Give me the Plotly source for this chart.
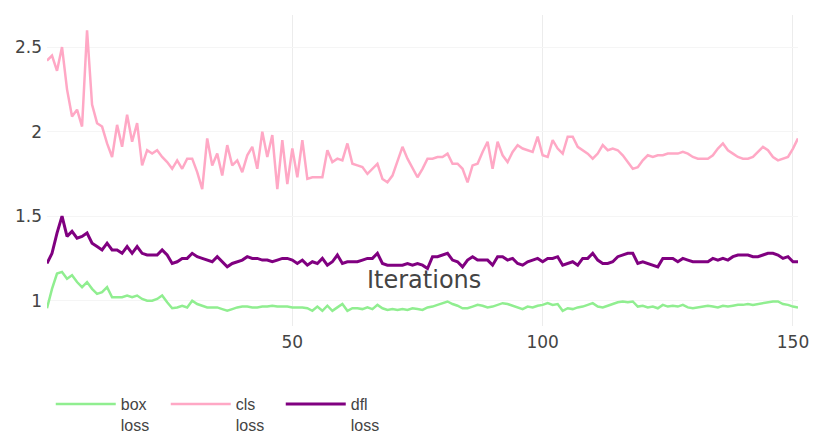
import plotly.graph_objects as go

# Training losses per iteration
iterations = list(range(1, 152))

box_loss = [
    0.955, 1.07, 1.16, 1.17, 1.13, 1.15, 1.11, 1.08, 1.11, 1.07,
    1.04, 1.05, 1.08, 1.02, 1.02, 1.02, 1.03, 1.02, 1.03, 1.01,
    1.00, 1.00, 1.01, 1.03, 0.99, 0.955, 0.96, 0.97, 0.96, 1.00,
    0.98, 0.97, 0.96, 0.96, 0.96, 0.95, 0.94, 0.95, 0.96, 0.965,
    0.965, 0.96, 0.96, 0.965, 0.965, 0.97, 0.965, 0.965, 0.965, 0.96,
    0.96, 0.96, 0.955, 0.94, 0.965, 0.94, 0.97, 0.94, 0.96, 0.98,
    0.94, 0.955, 0.955, 0.95, 0.96, 0.95, 0.975, 0.955, 0.945, 0.95,
    0.945, 0.95, 0.945, 0.955, 0.95, 0.945, 0.96, 0.965, 0.975, 0.985,
    0.995, 0.98, 0.97, 0.955, 0.955, 0.965, 0.975, 0.97, 0.96, 0.965,
    0.975, 0.985, 0.98, 0.97, 0.96, 0.95, 0.965, 0.96, 0.97, 0.975,
    0.985, 0.975, 0.98, 0.94, 0.955, 0.95, 0.96, 0.965, 0.975, 0.985,
    0.965, 0.96, 0.97, 0.98, 0.99, 0.995, 0.99, 0.995, 0.965, 0.97,
    0.96, 0.965, 0.955, 0.975, 0.965, 0.97, 0.965, 0.975, 0.96, 0.955,
    0.96, 0.965, 0.97, 0.965, 0.96, 0.97, 0.965, 0.97, 0.975, 0.975,
    0.98, 0.975, 0.98, 0.985, 0.99, 0.995, 0.995, 0.98, 0.975, 0.965,
    0.96,
]

cls_loss = [
    2.42, 2.45, 2.36, 2.50, 2.25, 2.09, 2.13, 2.03, 2.60, 2.16,
    2.05, 2.03, 1.93, 1.85, 2.04, 1.91, 2.10, 1.94, 2.05, 1.80,
    1.89, 1.87, 1.89, 1.85, 1.82, 1.78, 1.83, 1.78, 1.84, 1.84,
    1.76, 1.66, 1.96, 1.80, 1.87, 1.74, 1.92, 1.80, 1.83, 1.76,
    1.86, 1.91, 1.78, 2.00, 1.85, 1.98, 1.66, 1.95, 1.69, 1.90,
    1.73, 1.95, 1.72, 1.73, 1.73, 1.73, 1.89, 1.82, 1.84, 1.83,
    1.93, 1.81, 1.80, 1.79, 1.75, 1.78, 1.81, 1.72, 1.70, 1.74,
    1.82, 1.91, 1.84, 1.78, 1.73, 1.78, 1.84, 1.84, 1.85, 1.85,
    1.87, 1.81, 1.81, 1.78, 1.70, 1.80, 1.81, 1.88, 1.94, 1.78,
    1.94, 1.86, 1.82, 1.88, 1.92, 1.90, 1.89, 1.88, 1.97, 1.86,
    1.85, 1.95, 1.90, 1.87, 1.97, 1.97, 1.91, 1.89, 1.87, 1.84,
    1.87, 1.92, 1.89, 1.90, 1.89, 1.86, 1.82, 1.78, 1.79, 1.83,
    1.86, 1.85, 1.86, 1.86, 1.87, 1.87, 1.87, 1.88, 1.87, 1.85,
    1.84, 1.84, 1.84, 1.86, 1.90, 1.93, 1.89, 1.87, 1.85, 1.84,
    1.84, 1.85, 1.88, 1.91, 1.89, 1.85, 1.83, 1.84, 1.85, 1.90,
    1.96,
]

dfl_loss = [
    1.22, 1.28, 1.40, 1.50, 1.38, 1.41, 1.37, 1.38, 1.40, 1.34,
    1.32, 1.30, 1.34, 1.30, 1.30, 1.28, 1.32, 1.28, 1.32, 1.28,
    1.27, 1.27, 1.27, 1.30, 1.27, 1.22, 1.23, 1.25, 1.25, 1.28,
    1.26, 1.25, 1.24, 1.23, 1.26, 1.23, 1.20, 1.22, 1.23, 1.24,
    1.26, 1.25, 1.25, 1.24, 1.24, 1.23, 1.24, 1.25, 1.25, 1.24,
    1.22, 1.24, 1.21, 1.23, 1.22, 1.25, 1.21, 1.23, 1.27, 1.22,
    1.23, 1.23, 1.23, 1.24, 1.25, 1.25, 1.28, 1.22, 1.21, 1.21,
    1.21, 1.21, 1.22, 1.21, 1.22, 1.21, 1.19, 1.26, 1.26, 1.27,
    1.28, 1.24, 1.23, 1.20, 1.24, 1.26, 1.24, 1.24, 1.24, 1.21,
    1.26, 1.26, 1.24, 1.25, 1.22, 1.21, 1.23, 1.24, 1.25, 1.23,
    1.25, 1.25, 1.26, 1.21, 1.22, 1.23, 1.21, 1.25, 1.25, 1.28,
    1.24, 1.22, 1.22, 1.23, 1.26, 1.27, 1.28, 1.28, 1.22, 1.23,
    1.22, 1.21, 1.20, 1.25, 1.25, 1.25, 1.23, 1.25, 1.24, 1.23,
    1.23, 1.23, 1.23, 1.25, 1.24, 1.25, 1.24, 1.26, 1.27, 1.27,
    1.27, 1.26, 1.26, 1.27, 1.28, 1.28, 1.27, 1.25, 1.26, 1.23,
    1.23,
]

series = [
    ("box<br>loss", box_loss, "#90ee90", 2.5),
    ("cls<br>loss", cls_loss, "#ffa8c5", 2.5),
    ("dfl<br>loss", dfl_loss, "#800080", 3),
]

fig = go.Figure()
for name, values, color, width in series:
    fig.add_trace(go.Scatter(
        x=iterations, y=values, mode="lines", name=name,
        line=dict(color=color, width=width),
    ))

fig.update_layout(
    width=820, height=442,
    margin=dict(l=47, r=22, t=15, b=116),
    paper_bgcolor="white", plot_bgcolor="white",
    font=dict(family="DejaVu Sans", size=17, color="#444"),
    showlegend=True,
    legend=dict(
        orientation="h", x=0.005, xanchor="left",
        yref="container", y=-0.022, yanchor="bottom",
        font=dict(family="Liberation Sans, Arial", size=16, color="#444"),
        valign="top", itemwidth=60, entrywidth=40,
    ),
    annotations=[dict(
        text="Iterations", xref="paper", yref="paper",
        x=0.502, y=0.148, xanchor="center", yanchor="middle",
        showarrow=False, font=dict(family="DejaVu Sans", size=24, color="#444"),
    )],
)
fig.update_xaxes(
    showgrid=True, gridcolor="#ececec", zeroline=False, showline=False,
    tickvals=[50, 100, 150], ticks="", ticklabelstandoff=4,
)
fig.update_yaxes(
    showgrid=True, gridcolor="#f5f5f5", zeroline=False, showline=False,
    range=[0.85, 2.69], tickvals=[1, 1.5, 2, 2.5], ticktext=["1", "1.5", "2", "2.5"],
    ticks="", ticklabelstandoff=4,
)

fig.write_html("out.html")
